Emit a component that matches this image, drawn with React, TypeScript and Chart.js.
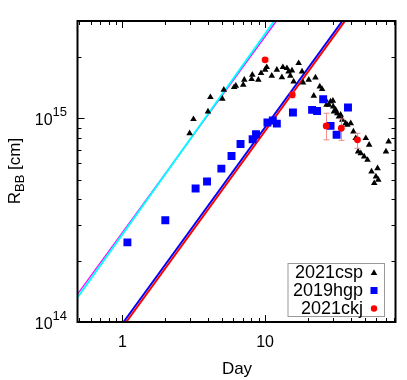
import React, { useEffect, useRef } from "react";
import { Chart, registerables } from "chart.js";

Chart.register(...registerables);

// ---------- data ----------
const cspDay = [2.96, 3.15, 3.98, 4.14, 5.02, 5.14, 6.07, 6.24, 7.03, 7.15, 8.05, 8.14, 8.97, 9.37, 10.0, 10.27, 11.14, 12.09, 13.12, 13.33, 14.22, 14.61, 15.02, 15.43, 15.85, 17.19, 18.15, 18.45, 20.23, 21.94, 22.54, 24.18, 25.1, 26.51, 26.96, 28.0, 28.76, 29.87, 30.03, 30.37, 31.2, 32.06, 32.94, 33.83, 34.76, 36.7, 37.71, 39.81, 41.58, 43.18, 44.86, 46.84, 49.45, 50.8, 52.2, 53.6, 55.7, 58.2, 59.8, 61.4, 62.1, 70.3, 73.4];
const cspR = [8.44e14, 9.89e14, 1.078e15, 1.268e15, 1.244e15, 1.378e15, 1.42e15, 1.441e15, 1.458e15, 1.542e15, 1.554e15, 1.632e15, 1.542e15, 1.663e15, 1.727e15, 1.78e15, 1.614e15, 1.727e15, 1.589e15, 1.78e15, 1.76e15, 1.695e15, 1.614e15, 1.714e15, 1.514e15, 1.862e15, 1.695e15, 1.497e15, 1.542e15, 1.287e15, 1.584e15, 1.43e15, 1.388e15, 1.23e15, 1.163e15, 1.163e15, 1.207e15, 1.216e15, 1.141e15, 1.078e15, 1.099e15, 1.058e15, 1.019e15, 1.038e15, 9.81e14, 9.45e14, 9.27e14, 9.45e14, 8.6e14, 7.98e14, 6.86e14, 6.73e14, 6.48e14, 7.98e14, 6.24e14, 7.4e14, 5.47e14, 4.8e14, 5.17e14, 5.68e14, 4.98e14, 6.86e14, 7.68e14];

const hgpDay = [1.085, 2.0, 3.26, 3.92, 4.94, 5.82, 6.73, 8.18, 8.64, 10.39, 11.33, 12.09, 15.68, 21.35, 23.15, 25.53, 28.76, 31.7, 38.1];
const hgpR = [2.46e14, 3.156e14, 4.516e14, 4.89e14, 5.66e14, 6.53e14, 7.48e14, 7.89e14, 8.34e14, 9.52e14, 9.74e14, 9.41e14, 1.066e15, 1.099e15, 1.086e15, 1.24e15, 9.17e14, 8.29e14, 1.128e15];

const ckjDay = [10.0, 15.51, 26.8, 34.2, 44.4];
const ckjR = [1.934e15, 1.302e15, 9.17e14, 8.93e14, 7.83e14];
const ckjRLow = [1.9e15, 1.26e15, 7.83e14, 7.79e14, 7.12e14];
const ckjRHigh = [1.97e15, 1.34e15, 1.058e15, 9.93e14, 8.44e14];

// fitted expansion lines (end points)
const magentaDay = [0.485, 12.0];
const magentaR = [1.37e14, 3e15];
const cyanDay = [0.485, 11.6];
const cyanR = [1.32e14, 3e15];
const blueDay = [1.02, 34.8];
const blueR = [1e14, 3e15];
const redDay = [1.065, 36.3];
const redR = [1e14, 3e15];

// axes
const xMin = 0.485;
const xMax = 82;
const yMin = 1e14;
const yMax = 3e15;
const xMajorTicks = [1, 10];
const xMajorLabels = ["1", "10"];
const xMinorTicks = [0.5, 0.6, 0.7, 0.8, 0.9, 2, 3, 4, 5, 6, 7, 8, 9, 20, 30, 40, 50, 60, 70, 80];
const yMajorTicks = [1e14, 1e15];
const yMajorExp = ["14", "15"];
const yMinorTicks = [2e14, 3e14, 4e14, 5e14, 6e14, 7e14, 8e14, 9e14, 2e15, 3e15];
const legendLabels = ["2021csp", "2019hgp", "2021ckj"];

const FONT = "'Liberation Sans', Arial, Helvetica, sans-serif";

function pts(xs: number[], ys: number[]) {
  return xs.map((x, i) => ({ x, y: ys[i] }));
}

function drawTriangle(ctx: CanvasRenderingContext2D, x: number, y: number, r: number) {
  ctx.beginPath();
  let rad = 0;
  ctx.moveTo(x + Math.sin(rad) * r, y - Math.cos(rad) * r);
  rad += (2 * Math.PI) / 3;
  ctx.lineTo(x + Math.sin(rad) * r, y - Math.cos(rad) * r);
  rad += (2 * Math.PI) / 3;
  ctx.lineTo(x + Math.sin(rad) * r, y - Math.cos(rad) * r);
  ctx.closePath();
  ctx.fill();
}

const gnuplotPlugin = {
  id: "gnuplotFrame",
  beforeDatasetDraw(chart: any, args: any) {
    if (args.index !== 0) return;
    const { ctx } = chart;
    const xs = chart.scales.x;
    const ys = chart.scales.y;
    ctx.save();
    ctx.strokeStyle = "rgba(240,128,128,0.9)";
    ctx.lineWidth = 1;
    ckjDay.forEach((d, i) => {
      const px = Math.round(xs.getPixelForValue(d)) + 0.5;
      const y1 = ys.getPixelForValue(ckjRLow[i]);
      const y2 = ys.getPixelForValue(ckjRHigh[i]);
      ctx.beginPath();
      ctx.moveTo(px, y1);
      ctx.lineTo(px, y2);
      ctx.moveTo(px - 3, y1);
      ctx.lineTo(px + 3, y1);
      ctx.moveTo(px - 3, y2);
      ctx.lineTo(px + 3, y2);
      ctx.stroke();
    });
    ctx.restore();
  },
  afterDraw(chart: any) {
    const { ctx, chartArea } = chart;
    const { left, right, top, bottom } = chartArea;
    const xs = chart.scales.x;
    const ys = chart.scales.y;
    ctx.save();

    // ticks
    ctx.strokeStyle = "#000";
    ctx.lineWidth = 1;
    const major = 7;
    const minor = 4;
    const vtick = (v: number, len: number) => {
      const px = Math.round(xs.getPixelForValue(v)) + 0.5;
      ctx.beginPath();
      ctx.moveTo(px, bottom);
      ctx.lineTo(px, bottom - len);
      ctx.moveTo(px, top);
      ctx.lineTo(px, top + len);
      ctx.stroke();
    };
    const htick = (v: number, len: number) => {
      const py = Math.round(ys.getPixelForValue(v)) + 0.5;
      ctx.beginPath();
      ctx.moveTo(left, py);
      ctx.lineTo(left + len, py);
      ctx.moveTo(right, py);
      ctx.lineTo(right - len, py);
      ctx.stroke();
    };
    xMinorTicks.forEach((v) => v > xMin && v < xMax && vtick(v, minor));
    xMajorTicks.forEach((v) => vtick(v, major));
    yMinorTicks.forEach((v) => v > yMin && v < yMax && htick(v, minor));
    yMajorTicks.forEach((v) => htick(v, major));

    // frame
    ctx.lineWidth = 2;
    ctx.strokeRect(left, top, right - left, bottom - top);

    // x tick labels
    ctx.fillStyle = "#000";
    ctx.font = `16px ${FONT}`;
    ctx.textAlign = "center";
    ctx.textBaseline = "alphabetic";
    xMajorTicks.forEach((v, i) => {
      ctx.fillText(xMajorLabels[i], xs.getPixelForValue(v), 347);
    });

    // y tick labels with superscript
    const labRight = 67;
    yMajorTicks.forEach((v, i) => {
      const py = ys.getPixelForValue(v);
      ctx.font = `13px ${FONT}`;
      const wSup = ctx.measureText(yMajorExp[i]).width;
      ctx.font = `16px ${FONT}`;
      const wBase = ctx.measureText("10").width;
      ctx.textAlign = "left";
      ctx.fillText("10", labRight - wSup - wBase, py + 7);
      ctx.font = `13px ${FONT}`;
      ctx.fillText(yMajorExp[i], labRight - wSup, py - 2.5);
    });

    // x title
    ctx.font = `17px ${FONT}`;
    ctx.textAlign = "center";
    ctx.fillText("Day", 237, 374);

    // y title (rotated) R_BB [cm]
    ctx.save();
    ctx.translate(20, 171);
    ctx.rotate(-Math.PI / 2);
    const p1 = "R";
    const p2 = "BB";
    const p3 = " [cm]";
    ctx.font = `17px ${FONT}`;
    const w1 = ctx.measureText(p1).width;
    const w3 = ctx.measureText(p3).width;
    ctx.font = `13px ${FONT}`;
    const w2 = ctx.measureText(p2).width;
    const total = w1 + w2 + w3;
    let cx = -total / 2;
    ctx.textAlign = "left";
    ctx.font = `17px ${FONT}`;
    ctx.fillText(p1, cx, 0);
    cx += w1;
    ctx.font = `13px ${FONT}`;
    ctx.fillText(p2, cx, 3.5);
    cx += w2;
    ctx.font = `17px ${FONT}`;
    ctx.fillText(p3, cx, 0);
    ctx.restore();

    // legend
    const lx = 287.5;
    const ly = 263;
    const lw = 97.5;
    const lh = 54;
    ctx.fillStyle = "#fff";
    ctx.fillRect(lx, ly, lw, lh);
    ctx.strokeStyle = "#999";
    ctx.lineWidth = 1;
    ctx.strokeRect(lx + 0.5, ly + 0.5, lw - 1, lh - 1);
    ctx.font = `18px ${FONT}`;
    ctx.textAlign = "right";
    ctx.textBaseline = "middle";
    ctx.fillStyle = "#000";
    const rows = [272.5, 290.5, 308.5];
    legendLabels.forEach((t, i) => {
      ctx.fillStyle = "#000";
      ctx.fillText(t, 363, rows[i] + 1);
    });
    const sx = 374;
    ctx.fillStyle = "#000";
    drawTriangle(ctx, sx, rows[0] + 0.5, 3.8);
    ctx.fillStyle = "#0000ff";
    ctx.fillRect(sx - 3.5, rows[1] - 3.5, 7, 7);
    ctx.fillStyle = "#ff0000";
    ctx.beginPath();
    ctx.arc(sx, rows[2], 3.2, 0, Math.PI * 2);
    ctx.fill();

    ctx.restore();
  },
};

export default function App() {
  const ref = useRef<HTMLCanvasElement>(null);
  useEffect(() => {
    const canvas = ref.current;
    if (!canvas) return;
    const chart = new Chart(canvas, {
      type: "scatter",
      data: {
        datasets: [
          {
            label: "2021ckj",
            data: pts(ckjDay, ckjR),
            pointStyle: "circle",
            pointRadius: 3.4,
            backgroundColor: "#ff0000",
            borderWidth: 0,
            showLine: false,
          },
          {
            label: "2019hgp",
            data: pts(hgpDay, hgpR),
            pointStyle: "rect",
            pointRadius: 5.6,
            backgroundColor: "#0000ff",
            borderWidth: 0,
            showLine: false,
          },
          {
            label: "2021csp",
            data: pts(cspDay, cspR),
            pointStyle: "triangle",
            pointRadius: 3.8,
            backgroundColor: "#000000",
            borderWidth: 0,
            showLine: false,
          },
          {
            label: "red",
            data: pts(redDay, redR),
            showLine: true,
            pointRadius: 0,
            borderColor: "#ff0000",
            borderWidth: 2,
            fill: false,
          },
          {
            label: "blue",
            data: pts(blueDay, blueR),
            showLine: true,
            pointRadius: 0,
            borderColor: "#0000ff",
            borderWidth: 2,
            fill: false,
          },
          {
            label: "cyan",
            data: pts(cyanDay, cyanR),
            showLine: true,
            pointRadius: 0,
            borderColor: "#00ffff",
            borderWidth: 2,
            fill: false,
          },
          {
            label: "magenta",
            data: pts(magentaDay, magentaR),
            showLine: true,
            pointRadius: 0,
            borderColor: "#ff00ff",
            borderWidth: 1.3,
            fill: false,
          },
        ],
      } as any,
      options: {
        responsive: false,
        animation: false,
        devicePixelRatio: 1,
        events: [],
        layout: { padding: { left: 77.5, right: 11.5, top: 21, bottom: 58 } },
        plugins: { legend: { display: false }, tooltip: { enabled: false } },
        scales: {
          x: { type: "logarithmic", min: xMin, max: xMax, display: false },
          y: { type: "logarithmic", min: yMin, max: yMax, display: false },
        },
      } as any,
      plugins: [gnuplotPlugin as any],
    });
    return () => chart.destroy();
  }, []);
  return (
    <div style={{ position: "absolute", left: 0, top: 0, width: 407, height: 380, background: "#fff" }}>
      <canvas ref={ref} width={407} height={380} style={{ display: "block" }} />
    </div>
  );
}
